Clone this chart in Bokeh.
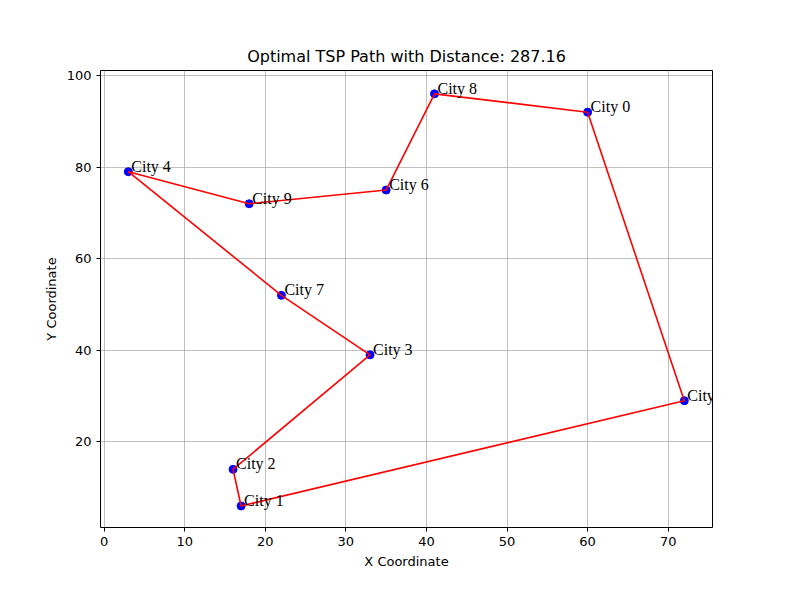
from bokeh.plotting import figure
from bokeh.models import Range1d, ColumnDataSource, SingleIntervalTicker, LabelSet
from bokeh.embed import file_html
from bokeh.resources import INLINE

# city coordinates
city_names = ["City 0", "City 1", "City 2", "City 3", "City 4",
              "City 5", "City 6", "City 7", "City 8", "City 9"]
city_x = [60, 17, 16, 33, 3, 72, 35, 22, 41, 18]
city_y = [92, 6, 14, 39, 79, 29, 75, 52, 96, 72]
tour = [0, 8, 6, 9, 4, 7, 3, 2, 1, 5, 0]

p = figure(width=784, height=584, output_backend="svg", toolbar_location=None,
           title="Optimal TSP Path with Distance: 287.16",
           x_range=Range1d(-0.45, 75.5), y_range=Range1d(1.3, 101.1),
           x_axis_label="X Coordinate", y_axis_label="Y Coordinate",
           min_border_left=100, min_border_right=72, min_border_top=70, min_border_bottom=57)
p.title.align = "center"
p.title.text_font = "DejaVu Sans"
p.title.text_font_size = "16px"
p.title.text_font_style = "normal"
p.title.text_color = "black"
p.outline_line_color = "black"
p.xaxis.ticker = SingleIntervalTicker(interval=10)
p.yaxis.ticker = SingleIntervalTicker(interval=20)
for ax in (p.xaxis[0], p.yaxis[0]):
    ax.axis_label_text_font = "DejaVu Sans"
    ax.axis_label_text_font_size = "13px"
    ax.axis_label_text_font_style = "normal"
    ax.axis_label_text_color = "black"
    ax.major_label_text_font = "DejaVu Sans"
    ax.major_label_text_font_size = "13px"
    ax.major_label_text_color = "black"
    ax.minor_tick_line_color = None
    ax.major_tick_line_color = "black"
    ax.major_tick_in = 0
    ax.major_tick_out = 4
    ax.axis_line_color = None
p.grid.grid_line_color = "#b0b0b0"
p.grid.grid_line_width = 0.8

src = ColumnDataSource(dict(x=city_x, y=city_y, name=city_names))
p.scatter("x", "y", source=src, size=8, color="blue")
p.line([city_x[i] for i in tour], [city_y[i] for i in tour], line_color="red", line_width=1.6)
labels = LabelSet(x="x", y="y", text="name", source=src, x_offset=3, y_offset=-3,
                  text_font="DejaVu Sans", text_font_size="16px", text_baseline="bottom",
                  text_color="black")
p.add_layout(labels)

open("out.html", "w").write(file_html(p, INLINE))
